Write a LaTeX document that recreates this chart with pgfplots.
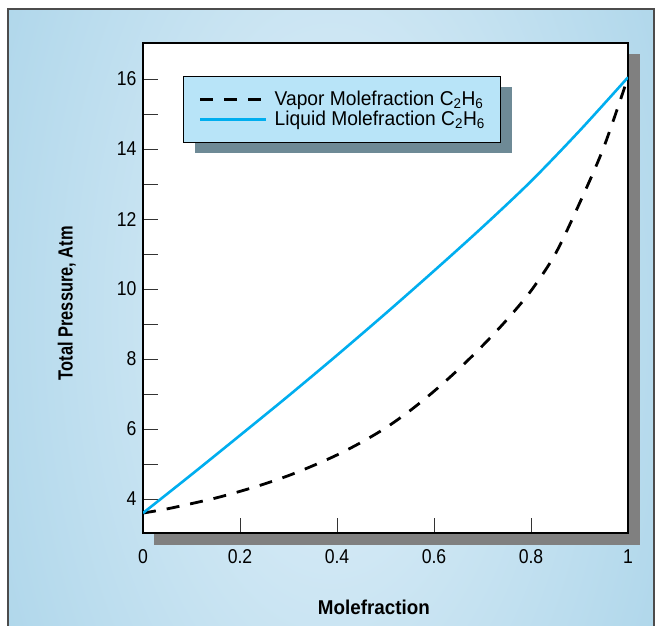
\documentclass[border=0pt]{standalone}
\usepackage{pgfplots}
\pgfplotsset{compat=1.18}
\usepackage{fontspec}
\setmainfont{Liberation Sans}[FakeStretch=0.88]
\newfontfamily\legfont{Liberation Sans}[FakeStretch=0.96]
\newfontfamily\xlfont{Liberation Sans}[FakeStretch=0.94]
\newfontfamily\ylfont{Liberation Sans}[FakeStretch=0.80]
\definecolor{bgc}{HTML}{D3E9F5}
\definecolor{bge}{HTML}{8BC4E0}
\definecolor{liq}{HTML}{00AEEF}
\definecolor{legfill}{HTML}{B8E4F8}
\definecolor{legshadow}{HTML}{6E8A96}
\definecolor{plotshadow}{HTML}{808080}
\pgfdeclareradialshading{bgshade}{\pgfpoint{0bp}{0bp}}{color(0bp)=(bgc); color(8bp)=(bgc); color(50bp)=(bge); color(71bp)=(bge)}
\pgfplotstableread{
x y
0 3.60
0.05 3.72
0.1 3.87
0.15 4.03
0.2 4.22
0.25 4.43
0.3 4.67
0.35 4.95
0.4 5.26
0.45 5.62
0.5 6.03
0.55 6.52
0.6 7.08
0.65 7.70
0.7 8.38
0.75 9.12
0.8 9.95
0.85 11.00
0.9 12.45
0.95 14.05
1.0 16.05
}\vapor
\pgfplotstableread{
x y
0 3.60
0.1 4.70
0.2 5.82
0.3 6.95
0.4 8.11
0.5 9.30
0.6 10.52
0.7 11.77
0.8 13.08
0.9 14.52
1.0 16.05
}\liquid
\begin{document}
\begin{tikzpicture}
\useasboundingbox (0pt,0pt) rectangle (655pt,625pt);
\begin{scope}
\clip (8pt,-5pt) rectangle (654pt,616pt);
\shade[shading=bgshade] (8pt,-300pt) rectangle (654pt,920pt);
\end{scope}
\draw[black!70, line width=1.5pt] (8pt,-5pt) rectangle (654pt,616pt);
\fill[plotshadow] (154pt,80pt) rectangle (640pt,571pt);
\fill[white] (143pt,92pt) rectangle (628pt,582pt);
\fill[legshadow] (195pt,472pt) rectangle (512pt,538pt);
\begin{axis}[
  at={(143pt,92pt)}, anchor=south west,
  scale only axis, width=485pt, height=490pt,
  xmin=0, xmax=1, ymin=3.03, ymax=17.03,
  xtick={0,0.2,0.4,0.6,0.8,1}, xticklabels={0,0.2,0.4,0.6,0.8,1},
  ytick={4,6,8,10,12,14,16}, minor ytick={5,7,9,11,13,15},
  tick align=inside, xtick pos=bottom, ytick pos=left,
  major tick length=15pt, minor tick length=15pt,
  every tick/.style={line width=1pt, black!80},
  axis line style={line width=1.2pt},
  /pgf/number format/assume math mode=true,
  ticklabel style={font=\fontsize{20}{22}\selectfont},
  xticklabel style={yshift=-13pt},
  yticklabel style={xshift=-3pt},
  xlabel={\xlfont\bfseries Molefraction},
  ylabel={\ylfont\bfseries Total Pressure, Atm},
  xlabel style={font=\fontsize{20}{22}\selectfont, at={(axis description cs:0.476,-0.151)}, anchor=center},
  ylabel style={font=\fontsize{20.5}{23}\selectfont, at={(axis description cs:-0.157,0.469)}, anchor=center},
  legend cell align=left,
  legend style={at={(rel axis cs:0.0825,0.9327)}, anchor=north west,
    fill=legfill, draw=black, line width=0.8pt,
    font=\legfont\fontsize{20}{22}\selectfont,
    minimum width=317pt, minimum height=66pt,
    inner xsep=0pt, inner ysep=0pt,
    nodes={inner sep=0pt, minimum width=0pt, minimum height=0pt},
    column sep=7pt, row sep=4pt},
  legend image code/.code={\draw[#1] (0pt,0pt) -- (66pt,0pt);},
]
\addplot[black, line width=2.8pt, dash pattern=on 13pt off 11pt, smooth] table[x=x,y=y] {\vapor};
\addlegendentry{Vapor Molefraction C\textsubscript{2}H\textsubscript{6}\hspace{7pt}}
\addplot[liq, line width=2.6pt, smooth] table[x=x,y=y] {\liquid};
\addlegendentry{Liquid Molefraction C\textsubscript{2}H\textsubscript{6}\hspace{7pt}}
\end{axis}
\end{tikzpicture}
\end{document}
